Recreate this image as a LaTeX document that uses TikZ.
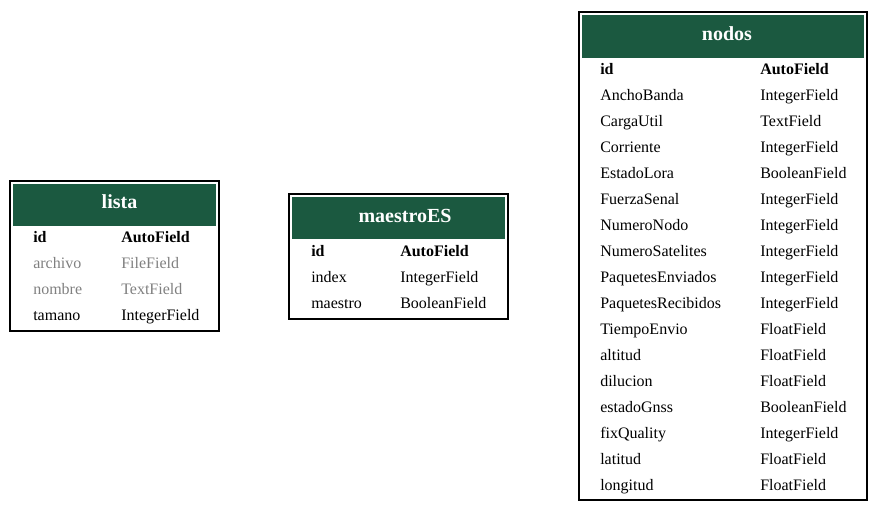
\documentclass[tikz,border=0pt]{standalone}
\usepackage{fontspec}
\setmainfont{Liberation Serif}
\definecolor{hdrgreen}{RGB}{27,89,64}
\definecolor{fieldgray}{RGB}{128,128,128}
\tikzset{
  tblframe/.style={draw=black,line width=1.5pt},
  tblhead/.style={fill=hdrgreen,draw=none},
  tbltitle/.style={anchor=base,inner sep=0pt,text=white,font=\fontsize{15}{17}\selectfont\bfseries},
  fld/.style={anchor=base west,inner sep=0pt,font=\fontsize{12}{14}\selectfont},
  fldkey/.style={fld,font=\fontsize{12}{14}\selectfont\bfseries},
  fldgray/.style={fld,text=fieldgray}
}
\begin{document}
\begin{tikzpicture}[x=0.75pt,y=0.75pt,yscale=-1,xscale=1]
\useasboundingbox (0,0) rectangle (878,514);
% lista
\draw [tblframe] (10,181) rectangle (219,331);
\fill [tblhead] (13,184) rectangle (216,226);
\node [tbltitle] (lista) at (119.5,208) {lista};
\node [fldkey] (lista-id) at (33,242) {id};
\node [fldkey] (lista-idt) at (121,242) {AutoField};
\node [fldgray] (lista-archivo) at (33,268) {archivo};
\node [fldgray] (lista-archivot) at (121,268) {FileField};
\node [fldgray] (lista-nombre) at (33,294) {nombre};
\node [fldgray] (lista-nombret) at (121,294) {TextField};
\node [fld] (lista-tamano) at (33,320) {tamano};
\node [fld] (lista-tamanot) at (121,320) {IntegerField};
% maestroES
\draw [tblframe] (289,194) rectangle (508,319);
\fill [tblhead] (292,197) rectangle (505,239);
\node [tbltitle] (maestro) at (405,222) {maestroES};
\node [fldkey] (maestro-id) at (311,256) {id};
\node [fldkey] (maestro-idt) at (400,256) {AutoField};
\node [fld] (maestro-index) at (311,282) {index};
\node [fld] (maestro-indext) at (400,282) {IntegerField};
\node [fld] (maestro-maestro) at (311,308) {maestro};
\node [fld] (maestro-maestrot) at (400,308) {BooleanField};
% nodos
\draw [tblframe] (579,12) rectangle (867,500);
\fill [tblhead] (582,15) rectangle (864,58);
\node [tbltitle] (nodos) at (727,40) {nodos};
\node [fldkey] (nodos-id) at (600,74) {id};
\node [fldkey] (nodos-idt) at (760,74) {AutoField};
\node [fld] (nodos-ancho) at (600,100) {AnchoBanda};
\node [fld] (nodos-anchot) at (760,100) {IntegerField};
\node [fld] (nodos-carga) at (600,126) {CargaUtil};
\node [fld] (nodos-cargat) at (760,126) {TextField};
\node [fld] (nodos-corriente) at (600,152) {Corriente};
\node [fld] (nodos-corrientet) at (760,152) {IntegerField};
\node [fld] (nodos-lora) at (600,178) {EstadoLora};
\node [fld] (nodos-lorat) at (760,178) {BooleanField};
\node [fld] (nodos-fuerza) at (600,204) {FuerzaSenal};
\node [fld] (nodos-fuerzat) at (760,204) {IntegerField};
\node [fld] (nodos-numnodo) at (600,230) {NumeroNodo};
\node [fld] (nodos-numnodot) at (760,230) {IntegerField};
\node [fld] (nodos-numsat) at (600,256) {NumeroSatelites};
\node [fld] (nodos-numsatt) at (760,256) {IntegerField};
\node [fld] (nodos-env) at (600,282) {PaquetesEnviados};
\node [fld] (nodos-envt) at (760,282) {IntegerField};
\node [fld] (nodos-rec) at (600,308) {PaquetesRecibidos};
\node [fld] (nodos-rect) at (760,308) {IntegerField};
\node [fld] (nodos-tiempo) at (600,334) {TiempoEnvio};
\node [fld] (nodos-tiempot) at (760,334) {FloatField};
\node [fld] (nodos-altitud) at (600,360) {altitud};
\node [fld] (nodos-altitudt) at (760,360) {FloatField};
\node [fld] (nodos-dilucion) at (600,386) {dilucion};
\node [fld] (nodos-diluciont) at (760,386) {FloatField};
\node [fld] (nodos-gnss) at (600,412) {estadoGnss};
\node [fld] (nodos-gnsst) at (760,412) {BooleanField};
\node [fld] (nodos-fix) at (600,438) {fixQuality};
\node [fld] (nodos-fixt) at (760,438) {IntegerField};
\node [fld] (nodos-latitud) at (600,464) {latitud};
\node [fld] (nodos-latitudt) at (760,464) {FloatField};
\node [fld] (nodos-longitud) at (600,490) {longitud};
\node [fld] (nodos-longitudt) at (760,490) {FloatField};
\end{tikzpicture}
\end{document}
